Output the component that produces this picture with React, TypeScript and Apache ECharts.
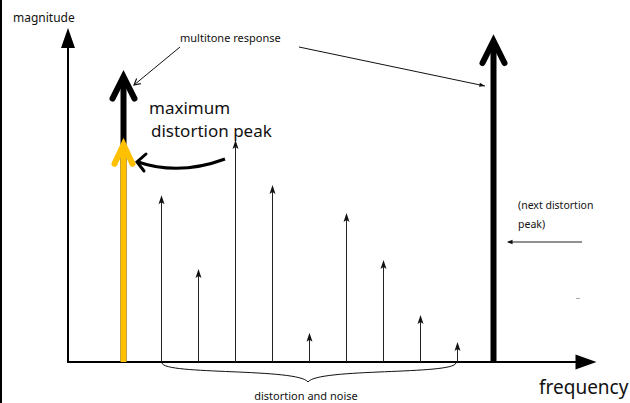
import React, { useEffect, useRef } from "react";
import * as echarts from "echarts";

// Spectral lines (frequency in tone-spacing units, magnitude in % of full scale)
const toneFreqs = [1.5, 11.5];
const toneMags = [89, 100];
const maxDistFreqs = [1.5];
const maxDistMags = [68];
const distFreqs = [2.5, 3.5, 4.5, 5.5, 6.5, 7.5, 8.5, 9.5, 10.5];
const distMags = [51.5, 28.7, 68.5, 54.6, 9.0, 46.0, 31.5, 14.5, 6.2];

const xLabel = "frequency";
const yLabel = "magnitude";
const FONT = "'Noto Sans', 'Open Sans', sans-serif";

function head(x1: number, y1: number, x2: number, y2: number, len: number, ang: number) {
  const dx = x1 - x2, dy = y1 - y2;
  const d = Math.hypot(dx, dy);
  const ux = dx / d, uy = dy / d;
  const a = (ang * Math.PI) / 180;
  const r = (s: number) => [
    x2 + len * (ux * Math.cos(s * a) - uy * Math.sin(s * a)),
    y2 + len * (ux * Math.sin(s * a) + uy * Math.cos(s * a)),
  ];
  return [r(1), [x2, y2], r(-1)];
}

function thickArrow(color: string, w: number, hw: number, hh: number) {
  return (params: any, api: any) => {
    const top = api.coord([api.value(0), api.value(1)]);
    const base = api.coord([api.value(0), 0]);
    const x = top[0];
    const ty = top[1] + 3;
    return {
      type: "group",
      children: [
        { type: "line", shape: { x1: x, y1: base[1], x2: x, y2: ty + 4 }, style: { stroke: color, lineWidth: w } },
        {
          type: "polyline",
          shape: { points: [[x - hw, ty + hh], [x, ty], [x + hw, ty + hh]] },
          style: { stroke: color, fill: "none", lineWidth: w, lineCap: "round", lineJoin: "miter" },
        },
      ],
    };
  };
}

function thinArrow(params: any, api: any) {
  const top = api.coord([api.value(0), api.value(1)]);
  const base = api.coord([api.value(0), 0]);
  const x = Math.round(top[0]) + 0.5;
  const ty = top[1];
  return {
    type: "group",
    children: [
      { type: "line", shape: { x1: x, y1: base[1], x2: x, y2: ty + 5 }, style: { stroke: "#222", lineWidth: 1 } },
      {
        type: "polygon",
        shape: { points: [[x, ty], [x - 3, ty + 9], [x, ty + 7], [x + 3, ty + 9]] },
        style: { fill: "#111" },
      },
    ],
  };
}

export default function App() {
  const ref = useRef<HTMLDivElement>(null);
  useEffect(() => {
    document.body.style.margin = "0";
    const chart = echarts.init(ref.current!, null, { renderer: "svg" });
    const a1 = head(180, 47, 134, 85, 7, 28);
    const a2 = head(299, 47, 485, 86, 6, 20);
    const a3 = head(582, 242, 507, 242, 6, 22);
    chart.setOption({
      animation: false,
      backgroundColor: "#fff",
      grid: { left: 68, top: 38, right: 44, bottom: 41 },
      xAxis: {
        type: "value",
        min: 0,
        max: 14,
        axisLine: { show: true, onZero: true, symbol: ["none", "triangle"], symbolSize: [15, 21], lineStyle: { color: "#000", width: 2 } },
        axisTick: { show: false },
        axisLabel: { show: false },
        splitLine: { show: false },
      },
      yAxis: {
        type: "value",
        min: 0,
        max: 100,
        axisLine: { show: true, symbol: ["none", "triangle"], symbolSize: [14, 20], lineStyle: { color: "#000", width: 2 } },
        axisTick: { show: false },
        axisLabel: { show: false },
        splitLine: { show: false },
      },
      series: [
        {
          name: "distortion",
          type: "custom",
          clip: false,
          renderItem: thinArrow,
          data: distFreqs.map((f, i) => [f, distMags[i]]),
        },
        {
          name: "multitone",
          type: "custom",
          clip: false,
          renderItem: thickArrow("#000", 6, 11, 22),
          data: toneFreqs.map((f, i) => [f, toneMags[i]]),
        },
        {
          name: "max distortion",
          type: "custom",
          clip: false,
          renderItem: thickArrow("#FFC000", 6, 9, 19),
          data: maxDistFreqs.map((f, i) => [f, maxDistMags[i]]),
        },
      ],
      graphic: [
        { type: "line", shape: { x1: 1, y1: 0, x2: 1, y2: 403 }, style: { stroke: "#000", lineWidth: 2 } },
        { type: "text", x: 13, y: 17, style: { text: yLabel, fontSize: 12, fontFamily: FONT, fill: "#111", textVerticalAlign: "middle", verticalAlign: "middle" } },
        { type: "text", x: 539, y: 387, style: { text: xLabel, fontSize: 19, fontFamily: FONT, fill: "#111", textVerticalAlign: "middle", verticalAlign: "middle" } },
        { type: "text", x: 180, y: 37, style: { text: "multitone response", fontSize: 11, fontFamily: FONT, fill: "#111", textVerticalAlign: "middle", verticalAlign: "middle" } },
        { type: "text", x: 149, y: 107, style: { text: "maximum", fontSize: 17, fontFamily: FONT, fill: "#111", textVerticalAlign: "middle", verticalAlign: "middle" } },
        { type: "text", x: 151, y: 130, style: { text: "distortion peak", fontSize: 17, fontFamily: FONT, fill: "#111", textVerticalAlign: "middle", verticalAlign: "middle" } },
        { type: "text", x: 518, y: 205, style: { text: "(next distortion", fontSize: 10.5, fontFamily: FONT, fill: "#111", textVerticalAlign: "middle", verticalAlign: "middle" } },
        { type: "text", x: 518, y: 224, style: { text: "peak)", fontSize: 10.5, fontFamily: FONT, fill: "#111", textVerticalAlign: "middle", verticalAlign: "middle" } },
        { type: "text", x: 306, y: 395, style: { text: "distortion and noise", fontSize: 11, fontFamily: FONT, fill: "#111", textAlign: "center", align: "center", textVerticalAlign: "middle", verticalAlign: "middle" } },
        // multitone response arrows
        { type: "line", shape: { x1: 180, y1: 47, x2: 134, y2: 85 }, style: { stroke: "#111", lineWidth: 1 } },
        { type: "polyline", shape: { points: a1 }, style: { stroke: "#111", fill: "none", lineWidth: 1.2 } },
        { type: "line", shape: { x1: 299, y1: 47, x2: 485, y2: 86 }, style: { stroke: "#111", lineWidth: 1 } },
        { type: "polygon", shape: { points: a2 }, style: { fill: "#111" } },
        // next distortion arrow
        { type: "line", shape: { x1: 582, y1: 242, x2: 508, y2: 242 }, style: { stroke: "#222", lineWidth: 1 } },
        { type: "polygon", shape: { points: a3 }, style: { fill: "#111" } },
        { type: "line", shape: { x1: 576, y1: 298.5, x2: 580, y2: 298.5 }, style: { stroke: "#aaa", lineWidth: 1 } },
        // curved arrow to maximum distortion peak
        { type: "bezierCurve", shape: { x1: 225, y1: 159, cpx1: 179, cpy1: 176, x2: 138, y2: 162 }, style: { stroke: "#000", fill: "none", lineWidth: 3 } },
        { type: "polyline", shape: { points: [[146, 154], [137, 162], [144, 171]] }, style: { stroke: "#000", fill: "none", lineWidth: 3, lineCap: "round" } },
        // brace: distortion and noise
        { type: "bezierCurve", shape: { x1: 162, y1: 363, cpx1: 164, cpy1: 375, cpx2: 298, cpy2: 368, x2: 308, y2: 382 }, style: { stroke: "#111", fill: "none", lineWidth: 1 } },
        { type: "bezierCurve", shape: { x1: 308, y1: 382, cpx1: 318, cpy1: 368, cpx2: 453, cpy2: 375, x2: 456, y2: 363 }, style: { stroke: "#111", fill: "none", lineWidth: 1 } },
      ],
    });
    return () => chart.dispose();
  }, []);
  return <div ref={ref} style={{ width: 630, height: 403, position: "absolute", left: 0, top: 0 }} />;
}
